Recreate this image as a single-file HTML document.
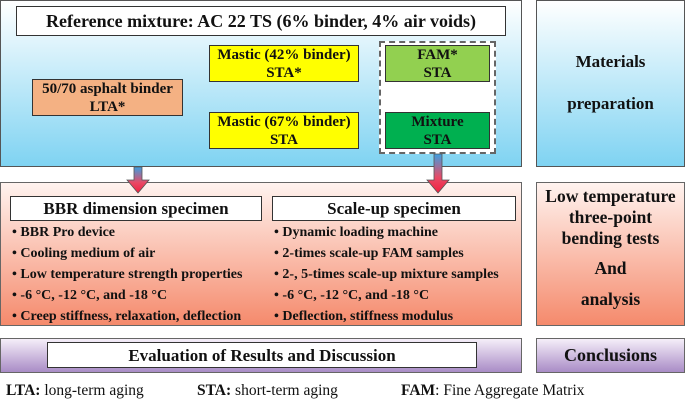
<!DOCTYPE html>
<html><head><meta charset="utf-8"><style>
body{margin:0;width:685px;height:402px;background:#fff;position:relative;overflow:hidden;font-family:"Liberation Serif",serif;font-weight:bold;color:#111}
.a{position:absolute;box-sizing:border-box}
.blue{background:linear-gradient(#fff,#7fd3f2);border:1px solid #555}
.red{background:linear-gradient(#fff3ef,#f58a6c);border:1px solid #666}
.pur{background:linear-gradient(#f5eef9,#a98cc6);border:1px solid #666}
.box{border:1px solid #333;text-align:center;line-height:18px;font-size:15px;white-space:nowrap}
.wb{background:#fff;border:1px solid #333;text-align:center;white-space:nowrap}
ul{margin:0;padding:0;list-style:none;font-size:14px;white-space:nowrap}
li{height:21px;line-height:21px}
li:before{content:"• ";}
.c{text-align:center;white-space:nowrap}
</style></head><body>
<div class="a blue" style="left:0;top:0;width:522px;height:167px"></div>
<div class="a wb" style="left:16px;top:6px;width:490px;height:30px;font-size:18px;line-height:28px">Reference mixture: AC 22 TS (6% binder, 4% air voids)</div>
<div class="a box" style="left:209px;top:45px;width:150px;height:37px;background:#ffff00">Mastic (42% binder)<br>STA*</div>
<div class="a box" style="left:209px;top:112px;width:150px;height:37px;background:#ffff00">Mastic (67% binder)<br>STA</div>
<div class="a box" style="left:32px;top:79px;width:151px;height:37px;background:#f4b183">50/70 asphalt binder<br>LTA*</div>
<div class="a" style="left:379px;top:41px;width:117px;height:113px;border:2px dashed #666;background:#fff"></div>
<div class="a box" style="left:385px;top:45px;width:105px;height:37px;background:#92d050">FAM*<br>STA</div>
<div class="a box" style="left:385px;top:112px;width:105px;height:37px;background:#00b050">Mixture<br>STA</div>
<div class="a blue c" style="left:536px;top:0;width:149px;height:167px;font-size:17px;line-height:42px;padding-top:40px">Materials<br>preparation</div>

<div class="a red" style="left:0;top:182px;width:522px;height:144px"></div>
<div class="a wb" style="left:10px;top:196px;width:252px;height:25px;font-size:17px;line-height:24px">BBR dimension specimen</div>
<div class="a wb" style="left:272px;top:196px;width:244px;height:25px;font-size:17px;line-height:24px">Scale-up specimen</div>
<ul class="a" style="left:12px;top:222px"><li>BBR Pro device</li><li>Cooling medium of air</li><li>Low temperature strength properties</li><li>-6 °C, -12 °C, and -18 °C</li><li>Creep stiffness, relaxation, deflection</li></ul>
<ul class="a" style="left:274px;top:222px"><li>Dynamic loading machine</li><li>2-times scale-up FAM samples</li><li>2-, 5-times scale-up mixture samples</li><li>-6 °C, -12 °C, and -18 °C</li><li>Deflection, stiffness modulus</li></ul>
<div class="a red c" style="left:536px;top:182px;width:149px;height:144px;font-size:17.5px;line-height:21px;padding-top:3px">Low temperature<br>three-point<br>bending tests<div style="height:28px;line-height:28px;margin-top:5px">And</div><div style="margin-top:7px">analysis</div></div>

<svg class="a" style="left:0;top:0" width="685" height="402">
<defs><linearGradient id="g" x1="0" y1="0" x2="0" y2="1"><stop offset="0" stop-color="#3d9fe0"/><stop offset="0.6" stop-color="#e84a66"/><stop offset="1" stop-color="#f0203f"/></linearGradient></defs>
<path d="M134 167h8v13h7l-11 13-11-13h7z" fill="url(#g)" stroke="#555" stroke-width=".8"/>
<path d="M434 154h8v26h7l-11 13-11-13h7z" fill="url(#g)" stroke="#555" stroke-width=".8"/>
</svg>

<div class="a pur" style="left:0;top:338px;width:522px;height:35px"></div>
<div class="a wb" style="left:47px;top:342px;width:430px;height:26px;font-size:17px;line-height:25px">Evaluation of Results and Discussion</div>
<div class="a pur c" style="left:536px;top:338px;width:149px;height:35px;font-size:18px;line-height:33px">Conclusions</div>

<div class="a" style="left:6px;top:382px;font-size:15.5px;font-weight:normal;white-space:nowrap"><b>LTA:</b> long-term aging</div>
<div class="a" style="left:197px;top:382px;font-size:15.5px;font-weight:normal;white-space:nowrap"><b>STA:</b> short-term aging</div>
<div class="a" style="left:401px;top:382px;font-size:15.5px;font-weight:normal;white-space:nowrap"><b>FAM</b>: Fine Aggregate Matrix</div>
</body></html>
